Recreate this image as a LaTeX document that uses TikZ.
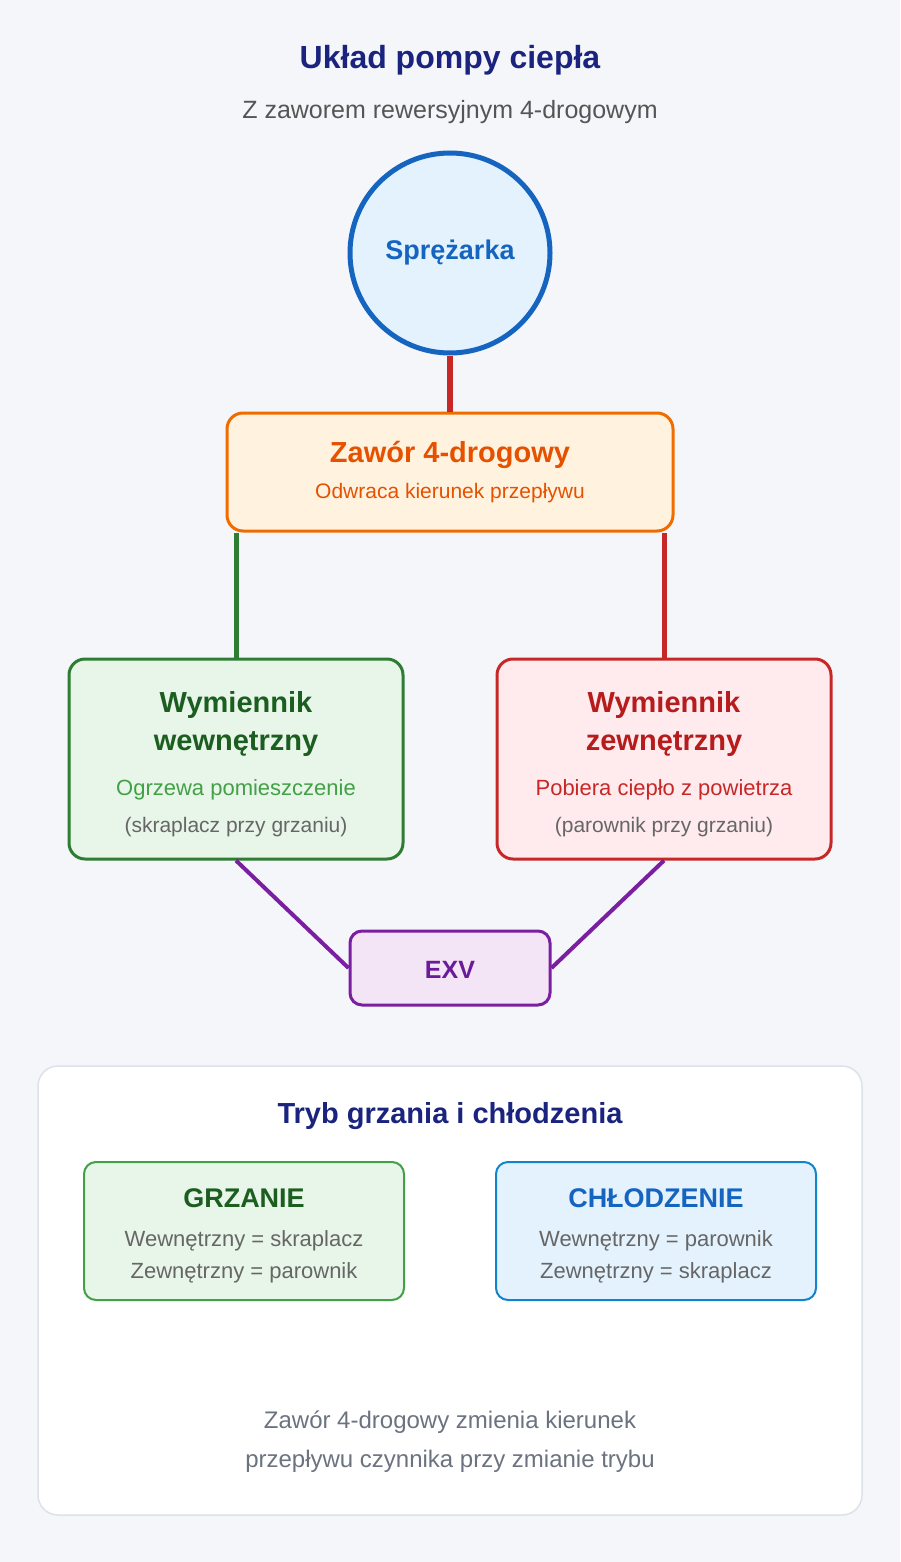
\documentclass[tikz,border=0pt]{standalone}
\usepackage{fontspec}
\setmainfont{Liberation Sans}
\newcommand{\fsz}[1]{\fontsize{#1}{#1}\selectfont}
\definecolor{bg}{HTML}{F5F6FA}
\definecolor{navy}{HTML}{1A237E}
\definecolor{sub}{HTML}{555555}
\definecolor{cblue}{HTML}{1565C0}
\definecolor{cbluef}{HTML}{E3F2FD}
\definecolor{cred}{HTML}{C62828}
\definecolor{credf}{HTML}{FFEBEE}
\definecolor{cdred}{HTML}{B71C1C}
\definecolor{corange}{HTML}{EF6C00}
\definecolor{corangef}{HTML}{FFF3E0}
\definecolor{cdorange}{HTML}{E65100}
\definecolor{cgreen}{HTML}{2E7D32}
\definecolor{cgreenf}{HTML}{E8F5E9}
\definecolor{cdgreen}{HTML}{1B5E20}
\definecolor{clgreen}{HTML}{43A047}
\definecolor{cpurple}{HTML}{7B1FA2}
\definecolor{cpurplef}{HTML}{F3E5F5}
\definecolor{cdpurple}{HTML}{6A1B9A}
\definecolor{gtxt}{HTML}{666666}
\definecolor{foot}{HTML}{6B7280}
\definecolor{panel}{HTML}{DDE1EA}
\tikzset{
  box/.style={draw, rounded corners=16pt, inner sep=0pt},
  txt/.style={inner sep=0pt, align=center},
}
\begin{document}
\begin{tikzpicture}[x=1pt,y=-1pt]
\fill[bg] (0,0) rectangle (900,1562);
\useasboundingbox (0,0) rectangle (900,1562);
\node[txt,text=navy,font=\fsz{32}\bfseries] (title) at (450,60) {Układ pompy ciepła};
\node[txt,text=sub,font=\fsz{25}] (subt) at (450,112) {Z zaworem rewersyjnym 4-drogowym};
\node[circle,draw=cblue,fill=cbluef,line width=5pt,minimum size=200pt,inner sep=0pt] (comp) at (450,253) {};
\node[txt,text=cblue,font=\fsz{27}\bfseries] (compt) at (450,253) {Sprężarka};
\node[box,draw=corange,fill=corangef,line width=3pt,minimum width=446pt,minimum height=118pt] (valve) at (450,472) {};
\node[txt,text=cdorange,font=\fsz{29}\bfseries] (valvet) at (450,455) {Zawór 4-drogowy};
\node[txt,text=cdorange,font=\fsz{21}] (valves) at (450,493) {Odwraca kierunek przepływu};
\node[box,draw=cgreen,fill=cgreenf,line width=3pt,minimum width=334pt,minimum height=200pt] (left) at (236,759) {};
\node[txt,text=cdgreen,font=\fsz{29}\bfseries] (lt1) at (236,705) {Wymiennik};
\node[txt,text=cdgreen,font=\fsz{29}\bfseries] (lt2) at (236,744) {wewnętrzny};
\node[txt,text=clgreen,font=\fsz{22}] (ls1) at (236,790) {Ogrzewa pomieszczenie};
\node[txt,text=gtxt,font=\fsz{21}] (ls2) at (236,827) {(skraplacz przy grzaniu)};
\node[box,draw=cred,fill=credf,line width=3pt,minimum width=334pt,minimum height=200pt] (right) at (664,759) {};
\node[txt,text=cdred,font=\fsz{29}\bfseries] (rt1) at (664,705) {Wymiennik};
\node[txt,text=cdred,font=\fsz{29}\bfseries] (rt2) at (664,744) {zewnętrzny};
\node[txt,text=cred,font=\fsz{22}] (rs1) at (664,790) {Pobiera ciepło z powietrza};
\node[txt,text=gtxt,font=\fsz{21}] (rs2) at (664,827) {(parownik przy grzaniu)};
\node[box,rounded corners=12pt,draw=cpurple,fill=cpurplef,line width=3pt,minimum width=200pt,minimum height=74pt] (exv) at (450,968) {};
\node[txt,text=cdpurple,font=\fsz{25}\bfseries] (exvt) at (450,970) {EXV};
\draw[cred,line width=6pt] (comp.south) -- (valve.north);
\draw[cgreen,line width=5pt] (valve.south -| left.north) -- (left.north);
\draw[cred,line width=5pt] (valve.south -| right.north) -- (right.north);
\draw[cpurple,line width=4pt] (left.south) -- (exv.west);
\draw[cpurple,line width=4pt] (right.south) -- (exv.east);
\node[box,rounded corners=20pt,draw=panel,fill=white,line width=1.5pt,minimum width=824pt,minimum height=449pt] (pan) at (450,1290.5) {};
\node[txt,text=navy,font=\fsz{29}\bfseries] (pant) at (450,1116) {Tryb grzania i chłodzenia};
\node[box,rounded corners=12pt,draw=clgreen,fill=cgreenf,line width=2pt,minimum width=320pt,minimum height=138pt] (heat) at (244,1231) {};
\node[txt,text=cdgreen,font=\fsz{27}\bfseries] (ht) at (244,1198) {GRZANIE};
\node[txt,text=gtxt,font=\fsz{22}] (h1) at (244,1241) {Wewnętrzny = skraplacz};
\node[txt,text=gtxt,font=\fsz{22}] (h2) at (244,1273) {Zewnętrzny = parownik};
\node[box,rounded corners=12pt,draw=cblue!80!cyan,fill=cbluef,line width=2pt,minimum width=320pt,minimum height=138pt] (cool) at (656,1231) {};
\node[txt,text=cblue,font=\fsz{27}\bfseries] (ct) at (656,1198) {CHŁODZENIE};
\node[txt,text=gtxt,font=\fsz{22}] (c1) at (656,1241) {Wewnętrzny = parownik};
\node[txt,text=gtxt,font=\fsz{22}] (c2) at (656,1273) {Zewnętrzny = skraplacz};
\node[txt,text=foot,font=\fsz{24}] (f1) at (450,1422) {Zawór 4-drogowy zmienia kierunek};
\node[txt,text=foot,font=\fsz{24}] (f2) at (450,1461) {przepływu czynnika przy zmianie trybu};
\end{tikzpicture}
\end{document}
